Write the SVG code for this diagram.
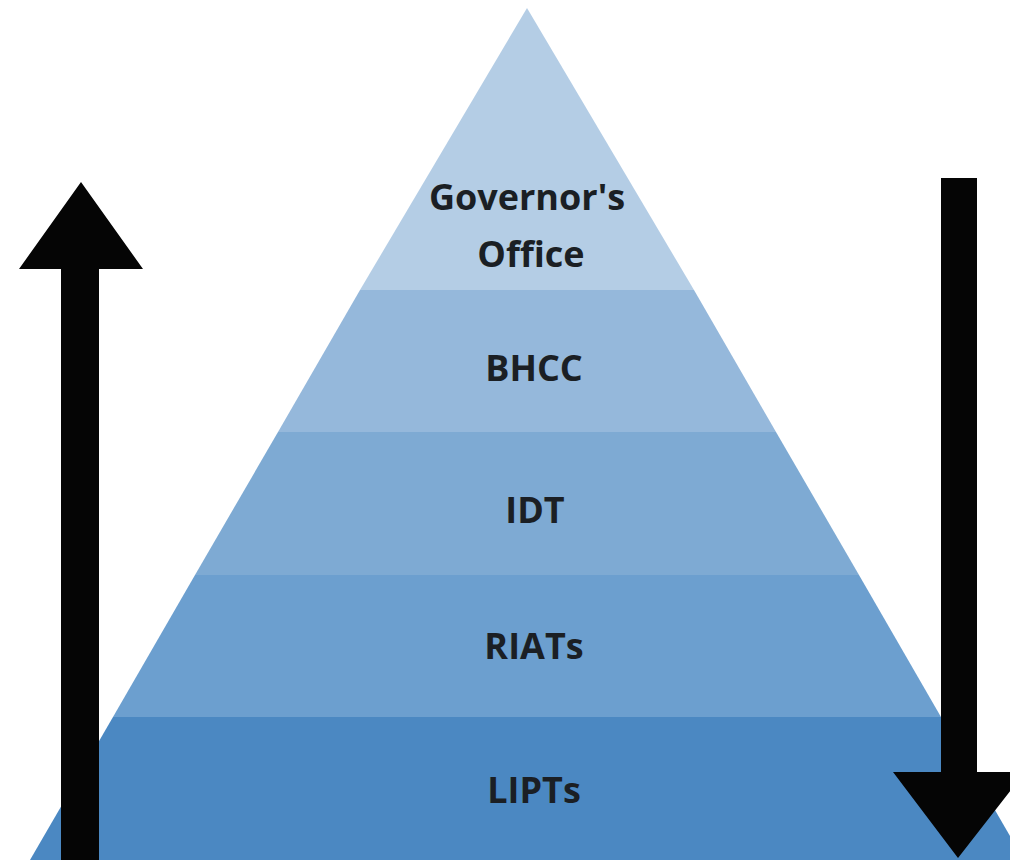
<svg xmlns="http://www.w3.org/2000/svg" width="1010" height="860" viewBox="0 0 1010 860">
<style>
.lbl{font-family:"Open Sans","Liberation Sans",sans-serif;font-weight:bold;font-size:36px;fill:#1b1f24;text-anchor:middle}
.arrow{fill:#050505}
</style>
<rect width="1010" height="860" fill="#ffffff"/>
<g id="pyramid">
<g id="layer-governor">
<polygon points="527,8 694,290 360,290" fill="#b4cde5"/>
<text class="lbl" x="527" y="210">Governor's</text>
<text class="lbl" x="531" y="267">Office</text>
</g>
<g id="layer-bhcc">
<polygon points="360,290 694,290 776,432 278,432" fill="#95b8db"/>
<text class="lbl" x="534" y="381">BHCC</text>
</g>
<g id="layer-idt">
<polygon points="278,432 776,432 859,575 195,575" fill="#7eaad3"/>
<text class="lbl" x="535" y="523">IDT</text>
</g>
<g id="layer-riats">
<polygon points="195,575 859,575 941,717 113,717" fill="#6c9fcf"/>
<text class="lbl" x="534" y="659">RIATs</text>
</g>
<g id="layer-lipts">
<polygon points="113,717 941,717 1024,860 30,860" fill="#4b88c2"/>
<text class="lbl" x="534" y="803">LIPTs</text>
</g>
</g>
<g id="connectors">
<polygon class="arrow" points="61,860 61,269 19,269 81,182 143,269 99,269 99,860"/>
<polygon class="arrow" points="941,178 977,178 977,772 1025,772 958,858 893,772 941,772"/>
</g>
</svg>
